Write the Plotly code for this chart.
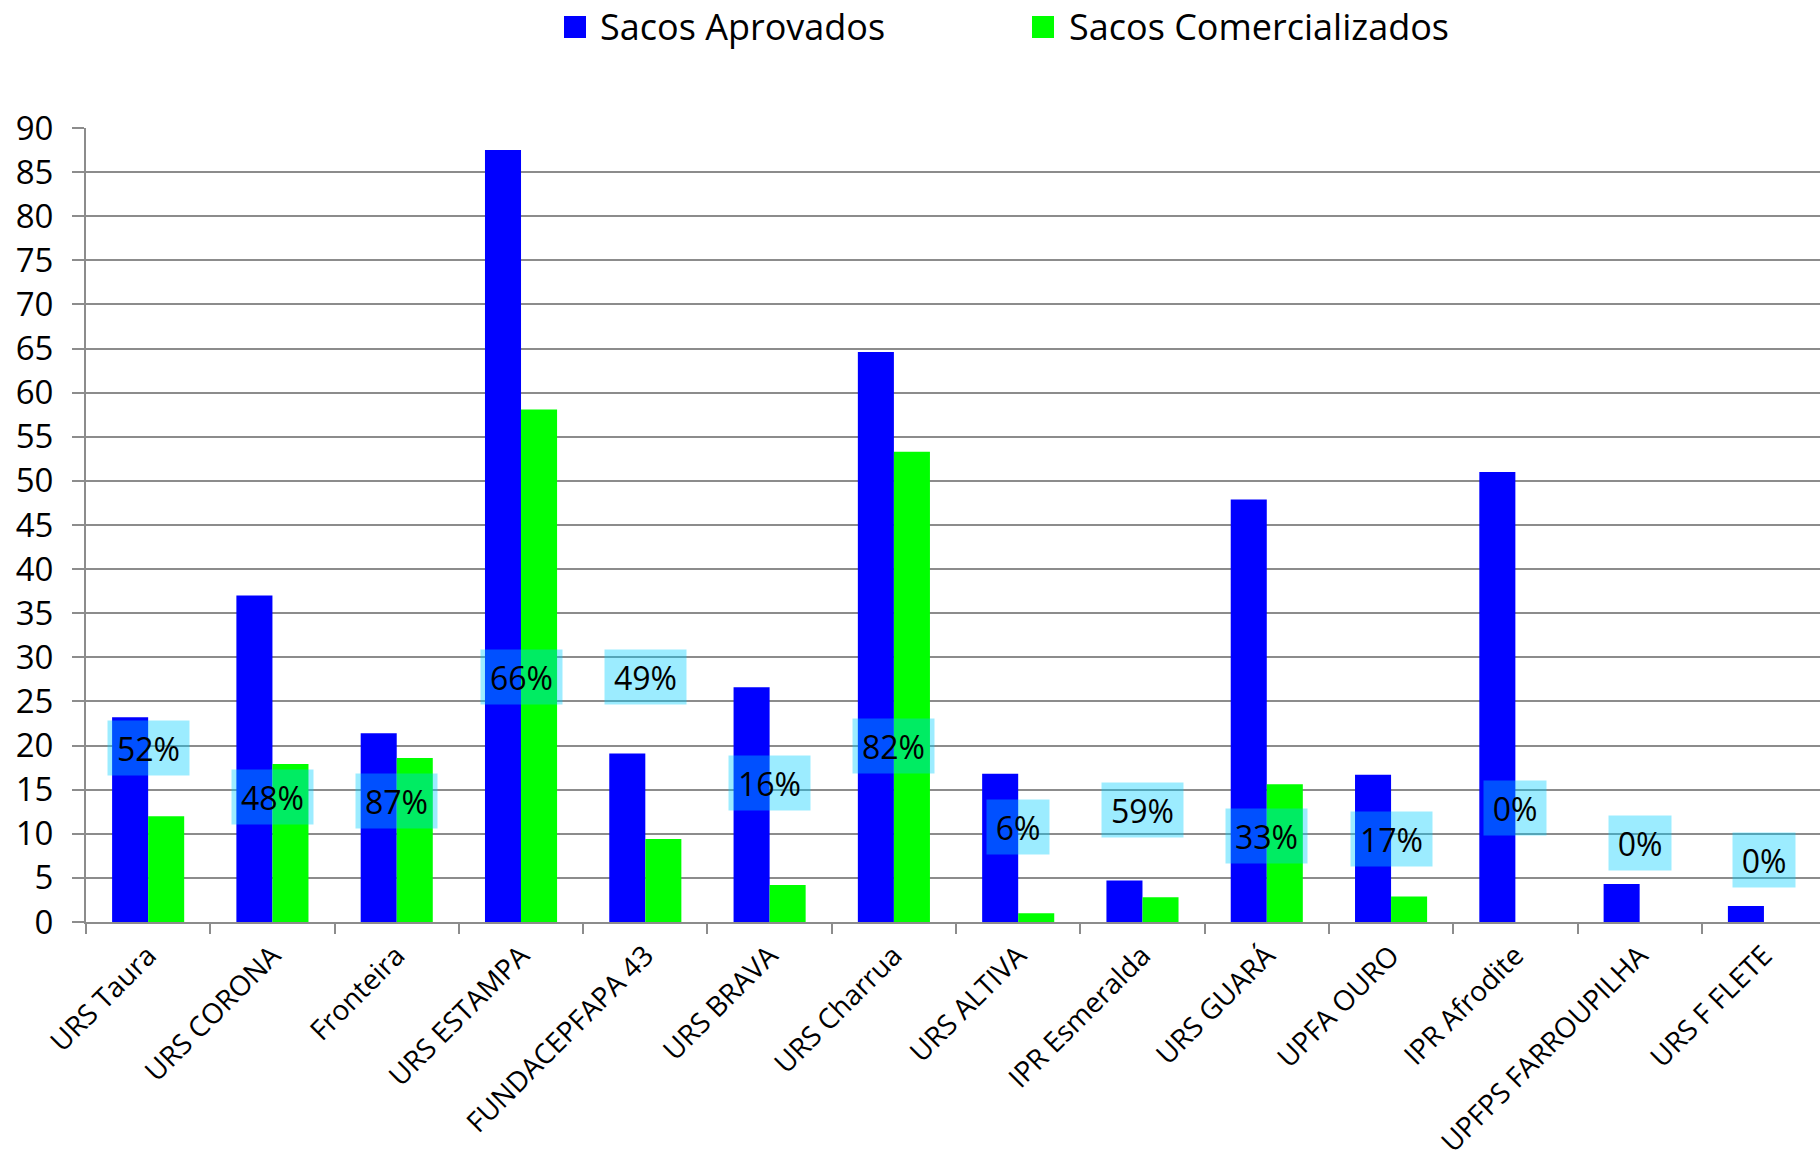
import plotly.graph_objects as go

categories = ["URS Taura", "URS CORONA", "Fronteira", "URS ESTAMPA", "FUNDACEPFAPA 43",
              "URS BRAVA", "URS Charrua", "URS ALTIVA", "IPR Esmeralda", "URS GUARÁ",
              "UPFA OURO", "IPR Afrodite", "UPFPS FARROUPILHA", "URS F FLETE"]
aprovados = [23.2, 37.0, 21.4, 87.5, 19.1, 26.6, 64.6, 16.8, 4.7, 47.9, 16.7, 51.0, 4.3, 1.8]
comercializados = [12.0, 17.9, 18.6, 58.1, 9.4, 4.2, 53.3, 1.0, 2.8, 15.6, 2.9, 0, 0, 0]
pct_labels = ["52%", "48%", "87%", "66%", "49%", "16%", "82%", "6%", "59%", "33%", "17%", "0%", "0%", "0%"]
pct_label_y = [19.7, 14.2, 13.7, 27.8, 27.8, 15.8, 19.9, 10.8, 12.7, 9.7, 9.4, 12.9, 8.9, 7.0]
series_names = ["Sacos Aprovados", "Sacos Comercializados"]
y_ticks = list(range(0, 91, 5))

FONT = "Open Sans, Noto Sans, sans-serif"
BLUE = "#0000FF"
GREEN = "#00FF00"
GRID = "#8c8c8c"

W, H = 1820, 1158
ML, MR, MT, MB = 86, 0, 128, 236
PW, PH = W - ML - MR, H - MT - MB


def px_x(px):
    return (px - ML) / PW


def px_y(py):
    return (H - MB - py) / PH


fig = go.Figure()
fig.add_trace(go.Bar(x=categories, y=aprovados, name=series_names[0],
                     marker=dict(color=BLUE, line=dict(width=0)), showlegend=False))
fig.add_trace(go.Bar(x=categories, y=comercializados, name=series_names[1],
                     marker=dict(color=GREEN, line=dict(width=0)), showlegend=False))

for cat, lab, yy in zip(categories, pct_labels, pct_label_y):
    fig.add_annotation(x=cat, y=yy, xref="x", yref="y", text=lab, showarrow=False,
                       font=dict(family=FONT, size=32, color="black"),
                       bgcolor="rgba(0,205,255,0.39)", borderpad=0,
                       width=81 if len(lab) > 2 else 62, height=54,
                       xanchor="center", yanchor="middle")

# manual legend (large square swatches like the original)
legend_items = [(series_names[0], BLUE, 564, 598), (series_names[1], GREEN, 1032, 1067)]
for name, col, sx, tx in legend_items:
    fig.add_shape(type="rect", xref="paper", yref="paper",
                  x0=px_x(sx), x1=px_x(sx + 22), y0=px_y(38), y1=px_y(16),
                  fillcolor=col, line=dict(width=0))
    fig.add_annotation(x=px_x(tx), y=px_y(27), xref="paper", yref="paper", text=name,
                       showarrow=False, xanchor="left", yanchor="middle",
                       font=dict(family=FONT, size=36, color="black"))

fig.update_layout(
    width=W, height=H,
    margin=dict(l=ML, r=MR, t=MT, b=MB, autoexpand=False),
    paper_bgcolor="white", plot_bgcolor="white",
    barmode="group", bargap=0.42, bargroupgap=0,
    font=dict(family=FONT, color="black"),
    showlegend=False,
    xaxis=dict(type="category", range=[-0.5, 13.451], showgrid=False, automargin=False,
               showline=True, linecolor=GRID, linewidth=2,
               ticks="outside", tickson="boundaries", ticklen=10, tickcolor=GRID, tickwidth=1.5,
               tickangle=-45, ticklabelstandoff=4,
               tickfont=dict(family=FONT, size=28, color="black")),
    yaxis=dict(range=[0, 90], tickvals=y_ticks, showgrid=True, gridcolor=GRID, gridwidth=1.5,
               showline=True, linecolor=GRID, linewidth=2, zeroline=False, automargin=False,
               ticks="outside", ticklen=12, tickcolor=GRID, tickwidth=1.5,
               ticklabelstandoff=12,
               tickfont=dict(family=FONT, size=33, color="black")),
)

fig.write_html("out.html", config={"displayModeBar": False},
               post_script="document.body.style.margin='0';document.body.style.overflow='hidden';")
